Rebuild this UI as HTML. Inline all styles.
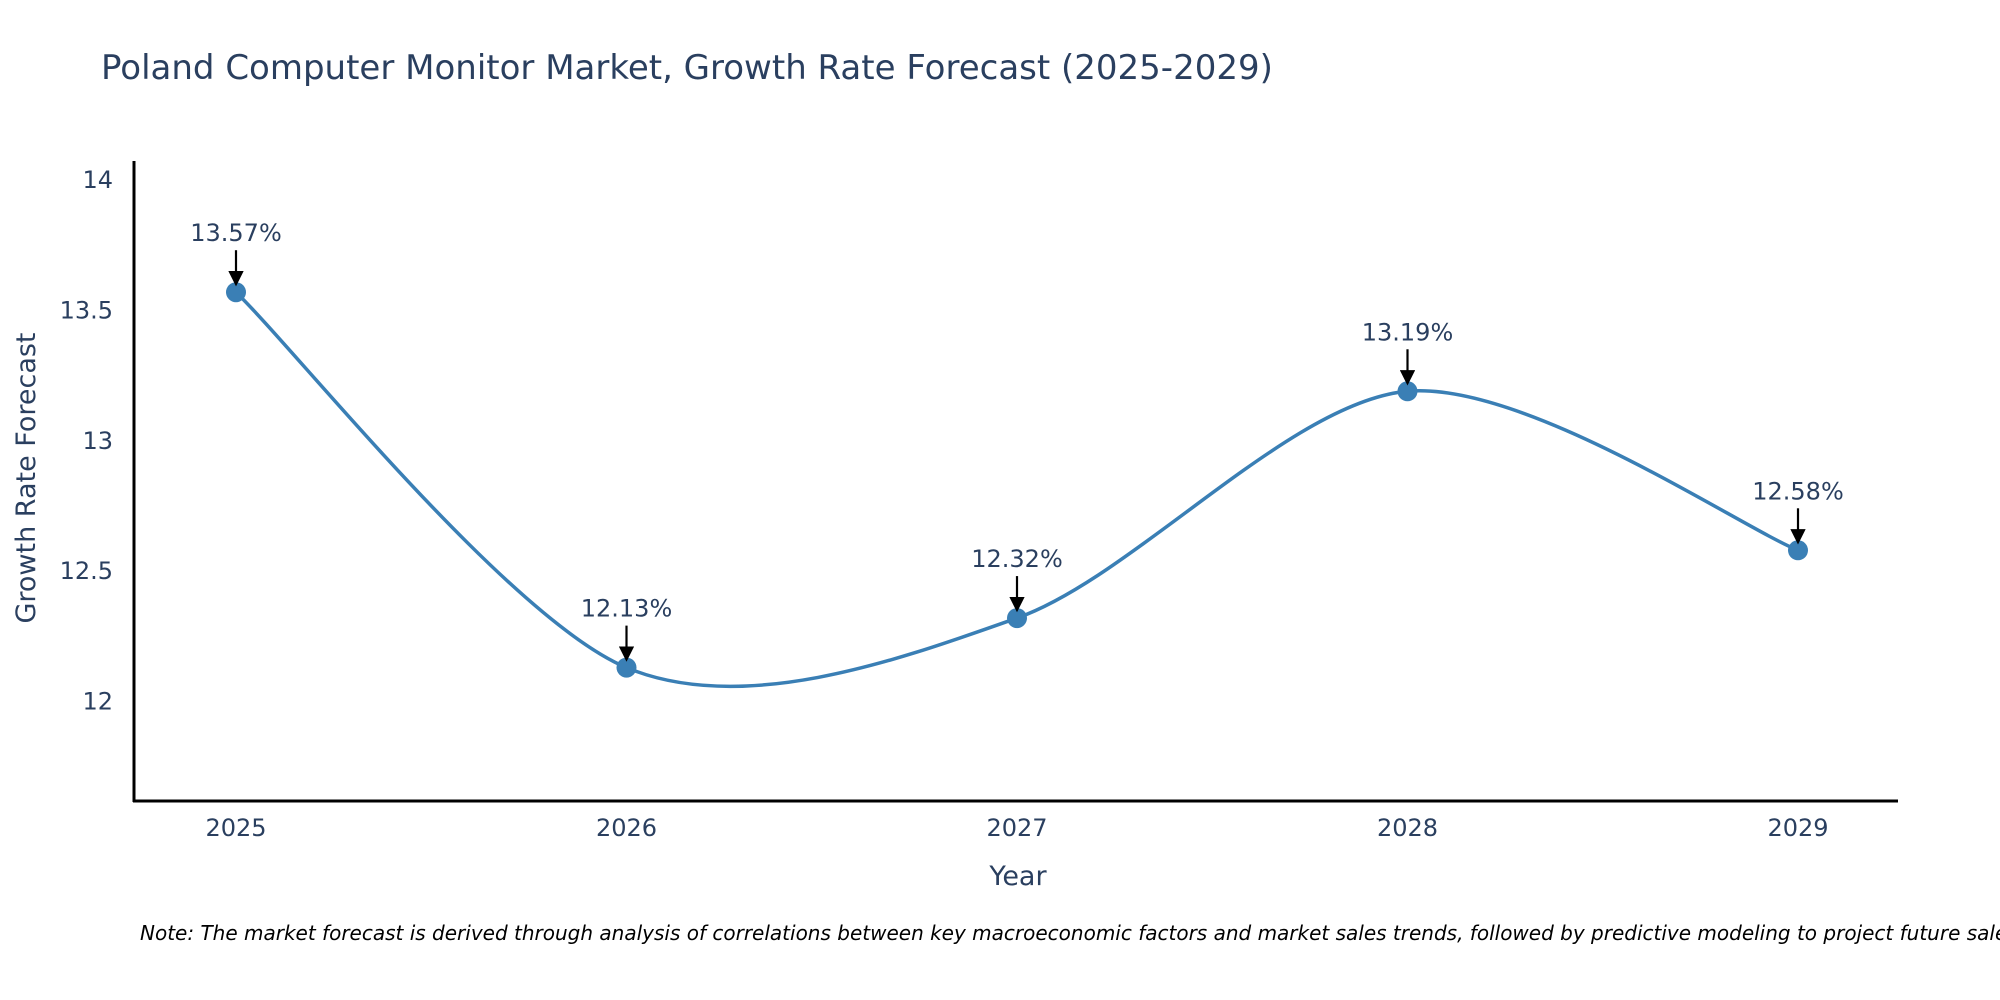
<!DOCTYPE html>
<html><head><meta charset="utf-8"><style>
html,body{margin:0;padding:0;background:#fff;}
svg{display:block;font-family:"DejaVu Sans","Liberation Sans",sans-serif;}
</style></head><body>
<svg id="chart" width="2000" height="1000" viewBox="0 0 2000 1000" xmlns="http://www.w3.org/2000/svg">
<text x="101" y="79" font-size="34" fill="#2a3f5f">Poland Computer Monitor Market, Growth Rate Forecast (2025-2029)</text>
<g id="yticks"></g><g id="xticks"></g>
<line x1="134" y1="161" x2="134" y2="802" stroke="#000" stroke-width="3"/>
<line x1="133" y1="801" x2="1898" y2="801" stroke="#000" stroke-width="3"/>
<text transform="translate(35,478) rotate(-90)" text-anchor="middle" font-size="27" fill="#2a3f5f">Growth Rate Forecast</text>
<text x="1018" y="885" text-anchor="middle" font-size="27" fill="#2a3f5f">Year</text>
<g id="series"></g>
<text x="140" y="940" font-size="20" font-style="italic" fill="#000">Note: The market forecast is derived through analysis of correlations between key macroeconomic factors and market sales trends, followed by predictive modeling to project future sales.</text>
<defs><marker id="ah" markerWidth="7" markerHeight="7" refX="6" refY="3.5" orient="auto" markerUnits="strokeWidth"><path d="M0,0 L7,3.5 L0,7 Z" fill="#000"/></marker></defs>
</svg>
<script>
const years = [2025, 2026, 2027, 2028, 2029];
const values = [13.57, 12.13, 12.32, 13.19, 12.58];
const yTicks = [12, 12.5, 13, 13.5, 14];
const labels = ["13.57%", "12.13%", "12.32%", "13.19%", "12.58%"];
const NS = "http://www.w3.org/2000/svg";
function xs(v){return 236 + (v-2025)*390.5;}
function ys(v){return 701.5 - (v-12)*260.7;}
function mk(tag, attrs, parent){const e=document.createElementNS(NS,tag);for(const k in attrs)e.setAttribute(k,attrs[k]);parent.appendChild(e);return e;}
const yt=document.getElementById('yticks'), xt=document.getElementById('xticks'), sg=document.getElementById('series');
yTicks.forEach(t=>{const e=mk('text',{x:113,y:ys(t)+8,'text-anchor':'end','font-size':'24',fill:'#2a3f5f'},yt);


e.textContent=String(t);});
years.forEach(y=>{const e=mk('text',{x:xs(y),y:836,'text-anchor':'middle','font-size':'24',fill:'#2a3f5f'},xt);


e.textContent=String(y);});
const P=years.map((y,i)=>[xs(y),ys(values[i])]);
let d='M'+P[0][0]+','+P[0][1];
for(let i=0;i<P.length-1;i++){const p0=P[Math.max(i-1,0)],p1=P[i],p2=P[i+1],p3=P[Math.min(i+2,P.length-1)];const s=0.15;
const c1=[p1[0]+(p2[0]-p0[0])*s,p1[1]+(p2[1]-p0[1])*s],c2=[p2[0]-(p3[0]-p1[0])*s,p2[1]-(p3[1]-p1[1])*s];
d+=` C${c1[0]},${c1[1]} ${c2[0]},${c2[1]} ${p2[0]},${p2[1]}`;}
const line=mk('path',{d:d,fill:'none',stroke:'#3a7fb5','stroke-width':'3.5'},sg);


P.forEach((p,i)=>{const c=mk('circle',{cx:p[0],cy:p[1],r:10,fill:'#3a7fb5'},sg);


const a=mk('line',{x1:p[0],y1:p[1]-42,x2:p[0],y2:p[1]-8,stroke:'#000','stroke-width':'2.2','marker-end':'url(#ah)'},sg);


const t=mk('text',{x:p[0],y:p[1]-51,'text-anchor':'middle','font-size':'24',fill:'#2a3f5f'},sg);


t.textContent=labels[i];});
</script>
</body></html>
